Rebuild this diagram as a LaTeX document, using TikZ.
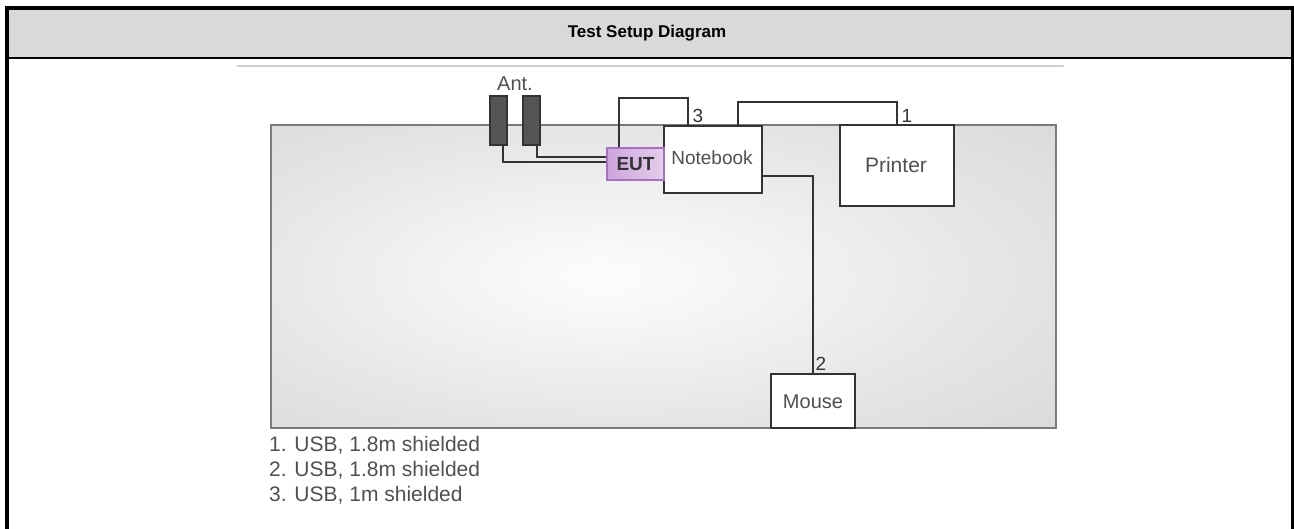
\documentclass[tikz,border=0pt]{standalone}
\usepackage{fontspec}
\setmainfont{Liberation Sans}
\definecolor{hdr}{HTML}{D9D9D9}
\definecolor{txt}{HTML}{505050}
\definecolor{cable}{HTML}{333333}
\definecolor{tblborder}{HTML}{7A7A7A}
\definecolor{bluel}{HTML}{C8D0E2}
\definecolor{eutfill}{HTML}{CDA5DC}
\definecolor{eutdraw}{HTML}{A870C4}
\definecolor{antfill}{HTML}{555555}
\pgfdeclareradialshading{tableshade}{\pgfpoint{-4bp}{0bp}}{%
 color(0bp)=(black!1); color(6bp)=(black!3); color(14bp)=(black!6);
 color(24bp)=(black!10); color(36bp)=(black!14); color(50bp)=(black!16);
 color(80bp)=(black!16)}
\begin{document}
\begin{tikzpicture}[x=1pt,y=-1pt,
  box/.style={draw=cable,line width=1.6pt,fill=white,text=txt,inner sep=0pt,
    font=\fontsize{20}{24}\selectfont},
  ant/.style={draw=cable,line width=1.2pt,fill=antfill,minimum width=17pt,
    minimum height=49pt,inner sep=0pt},
  eut/.style={draw=eutdraw,line width=1.4pt,left color=eutfill,right color=eutfill!55,
    minimum width=57pt,minimum height=32pt,inner sep=0pt},
  wire/.style={draw=cable,line width=1.6pt},
  lbl/.style={text=cable,inner sep=0pt,font=\fontsize{19}{22}\selectfont},
  legend/.style={text=txt,inner sep=0pt,anchor=west,font=\fontsize{21}{25}\selectfont}]
\useasboundingbox (0,0) rectangle (1294,528);
% frame and header
\fill[hdr] (7,8) rectangle (1292.5,58);
\draw[line width=4pt] (7,540) -- (7,8) -- (1292.5,8) -- (1292.5,540);
\draw[line width=2.5pt] (7,58) -- (1292.5,58);
\node[font=\bfseries\fontsize{17}{20}\selectfont,inner sep=0pt] (title) at (647,33.5) {Test Setup Diagram};
\draw[bluel,line width=2pt] (237,66) -- (1064,66);
% table
\path[shading=tableshade] (271,125) rectangle (1056,428);
\draw[tblborder,line width=2pt] (271,125) rectangle (1056,428);
% nodes
\node[ant] (A1) at (498.5,120.5) {};
\node[ant] (A2) at (531.5,120.5) {};
\node[inner sep=0pt,text=txt,font=\fontsize{20}{24}\selectfont] (antl) at (515,84) {Ant.};
\node[box] (NB) at (713,159.5) [minimum width=98pt,minimum height=67pt] {};
\node[box] (PR) at (897,165.5) [minimum width=114pt,minimum height=81pt] {};
\node[box] (MS) at (813,401) [minimum width=84pt,minimum height=54pt] {};
\node[eut] (EUT) at (635.5,164) {};
\coordinate (c3a) at (619,98);
\coordinate (c3b) at (688,98);
\coordinate (c1a) at (738,102);
\coordinate (c2) at (813,176);
\coordinate (e1) at (503,161.7);
\coordinate (e2) at (536.7,156.7);
% cables
\draw[wire] (A1.south -| e1) |- (EUT.west |- e1);
\draw[wire] (A2.south -| e2) |- (EUT.west |- e2);
\draw[wire] (EUT.north -| c3a) |- (c3b) -- (c3b |- NB.north);
\draw[wire] (NB.north -| c1a) |- (PR.north |- c1a) -- (PR.north);
\draw[wire] (NB.east |- c2) -- (c2) -- (MS.north);
% redraw boxes over cables
\node[box] at (NB) [minimum width=98pt,minimum height=67pt] {};
\node[box] at (PR) [minimum width=114pt,minimum height=81pt] {};
\node[box] at (MS) [minimum width=84pt,minimum height=54pt] {};
\node[eut] at (EUT) {};
\node[text=cable,inner sep=0pt,font=\bfseries\fontsize{19}{22}\selectfont] (eutl) at (EUT) {EUT};
\node[text=txt,inner sep=0pt,font=\fontsize{19}{22}\selectfont] (nbl) at (712,158) {Notebook};
\node[text=txt,inner sep=0pt,font=\fontsize{21}{24}\selectfont] (prl) at (896,165) {Printer};
\node[text=txt,inner sep=0pt,font=\fontsize{20}{24}\selectfont] (msl) at (813,402) {Mouse};
% cable labels
\node[lbl] (l3) at (698,116) {3};
\node[lbl] (l1) at (907,116) {1};
\node[lbl] (l2) at (821,364) {2};
% legend
\node[legend] (g1) at (269,445) {1. USB, 1.8m shielded};
\node[legend] (g2) at (269,470) {2. USB, 1.8m shielded};
\node[legend] (g3) at (269,495) {3. USB, 1m shielded};
\end{tikzpicture}
\end{document}
